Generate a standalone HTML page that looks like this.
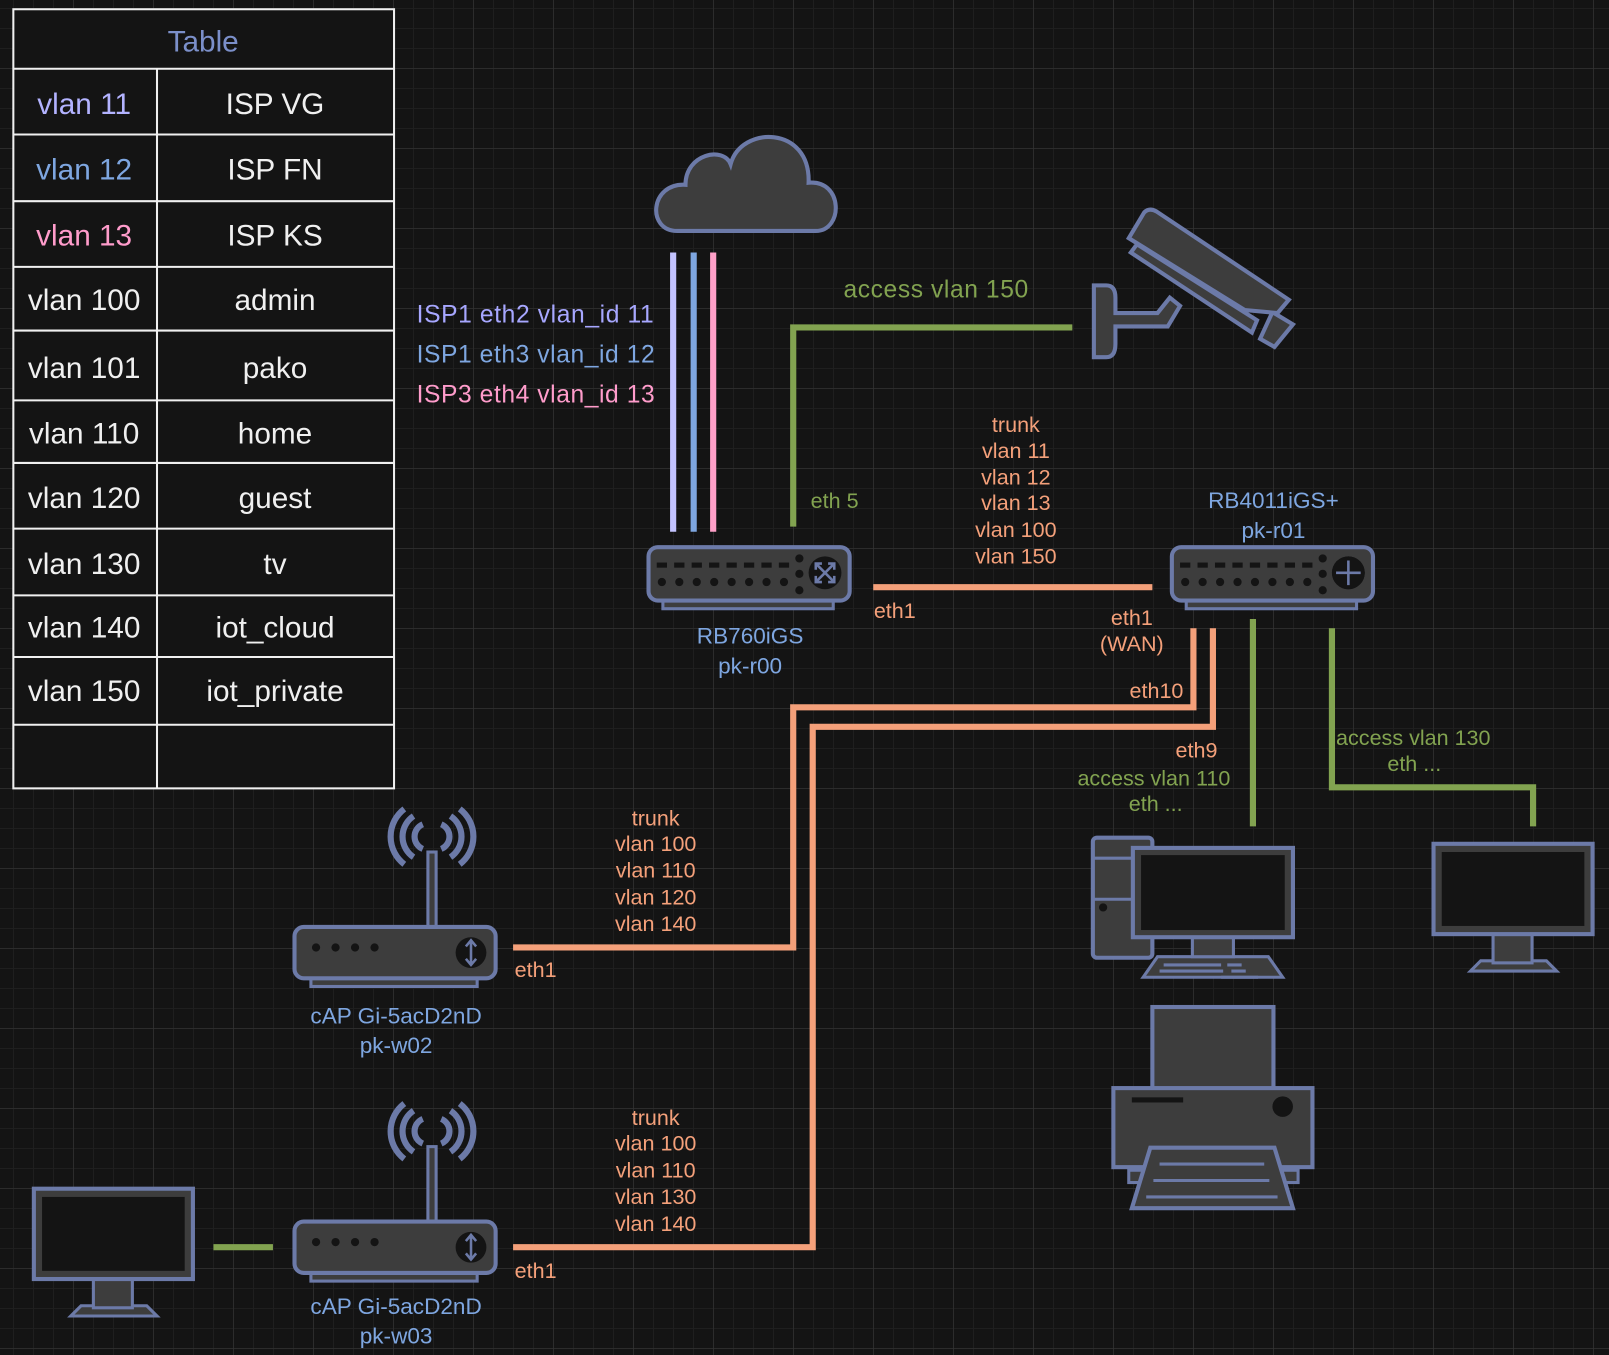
<!DOCTYPE html>
<html><head><meta charset="utf-8"><style>
html,body{margin:0;padding:0;background:#141414;}
svg{display:block;}
text{font-family:"Liberation Sans",Arial,sans-serif;}
</style></head><body>
<svg width="1609" height="1355" viewBox="0 0 1609 1355" xmlns="http://www.w3.org/2000/svg">
<defs>
<pattern id="minor" x="13" y="8" width="20" height="20" patternUnits="userSpaceOnUse">
<path d="M0 0H20M0 0V20" stroke="#1f1f1f" stroke-width="2" fill="none"/>
</pattern>
<pattern id="major" x="73" y="68" width="80" height="80" patternUnits="userSpaceOnUse">
<path d="M0 0H80M0 0V80" stroke="#333" stroke-width="1.2" fill="none"/>
</pattern>
</defs>
<rect width="1609" height="1355" fill="#141414"/>
<rect width="1609" height="1355" fill="url(#minor)"/>
<rect width="1609" height="1355" fill="url(#major)"/>

<g transform="scale(1.02615,1.02652)">
<!-- table -->
<g stroke="#f0f0f0" stroke-width="2" fill="#141414">
<rect x="13" y="9" width="371" height="759"/>
<path d="M13 67H384M13 131H384M13 196H384M13 260H384M13 322H384M13 390H384M13 451H384M13 515H384M13 580H384M13 640H384M13 706H384M153 67V768" fill="none"/>
</g>
<g font-size="29" text-anchor="middle" fill="#f0f0f0">
<text x="198" y="50" fill="#7b8fc9">Table</text>
<text x="82" y="111" fill="#b3b3ff">vlan 11</text><text x="268" y="111">ISP VG</text>
<text x="82" y="175" fill="#7ea6e0">vlan 12</text><text x="268" y="175">ISP FN</text>
<text x="82" y="239" fill="#ff9ccb">vlan 13</text><text x="268" y="239">ISP KS</text>
<text x="82" y="302">vlan 100</text><text x="268" y="302">admin</text>
<text x="82" y="368">vlan 101</text><text x="268" y="368">pako</text>
<text x="82" y="432">vlan 110</text><text x="268" y="432">home</text>
<text x="82" y="495">vlan 120</text><text x="268" y="495">guest</text>
<text x="82" y="559">vlan 130</text><text x="268" y="559">tv</text>
<text x="82" y="621">vlan 140</text><text x="268" y="621">iot_cloud</text>
<text x="82" y="683">vlan 150</text><text x="268" y="683">iot_private</text>
</g>

<!-- cloud -->
<path d="M660 225 C630 225 633 178 668 180 C668 150 705 142 712 160 C722 122 790 122 788 178 C822 175 822 225 795 225 Z" fill="#3d3d3d" stroke="#6c7aa8" stroke-width="4"/>

<!-- isp lines -->
<path d="M656 246V518" stroke="#c3c3ff" stroke-width="6"/>
<path d="M676 246V518" stroke="#7ea6e0" stroke-width="6"/>
<path d="M695 246V518" stroke="#ffa0c8" stroke-width="6"/>
<g font-size="24">
<text x="406" y="314" fill="#a7a7ff" textLength="231">ISP1 eth2 vlan_id 11</text>
<text x="406" y="353" fill="#7ea6e0" textLength="232">ISP1 eth3 vlan_id 12</text>
<text x="406" y="392" fill="#ff9ccb" textLength="232">ISP3 eth4 vlan_id 13</text>
</g>

<!-- green lines -->
<g stroke="#82a350" stroke-width="6" fill="none">
<path d="M773 513V319H1045"/>
<path d="M1221 603V805"/>
<path d="M1298 612V767H1494V805"/>
<path d="M208 1215H266"/>
</g>
<g font-size="22" fill="#82a350">
<text x="822" y="290" font-size="24" textLength="180">access vlan 150</text>
<text x="790" y="495" font-size="21">eth 5</text>
<text x="1050" y="765" font-size="21">access vlan 110</text>
<text x="1100" y="790" font-size="21">eth ...</text>
<text x="1302" y="726" font-size="21">access vlan 130</text>
<text x="1352" y="751" font-size="21">eth ...</text>
</g>

<!-- orange lines -->
<g stroke="#f4a07a" stroke-width="6" fill="none">
<path d="M851 572H1123"/>
<path d="M1163 612V689H773V923H500"/>
<path d="M1182 612V708H792V1215H500"/>
</g>
<g font-size="21" fill="#f4a07a" text-anchor="middle">
<text x="990" y="421">trunk</text><text x="990" y="446">vlan 11</text><text x="990" y="472">vlan 12</text><text x="990" y="497">vlan 13</text><text x="990" y="523">vlan 100</text><text x="990" y="549">vlan 150</text>
<text x="872" y="602">eth1</text>
<text x="1103" y="609">eth1</text><text x="1103" y="634">(WAN)</text>
<text x="1127" y="680">eth10</text>
<text x="1166" y="738">eth9</text>
<text x="639" y="804">trunk</text><text x="639" y="829">vlan 100</text><text x="639" y="855">vlan 110</text><text x="639" y="881">vlan 120</text><text x="639" y="907">vlan 140</text>
<text x="522" y="952">eth1</text>
<text x="639" y="1096">trunk</text><text x="639" y="1121">vlan 100</text><text x="639" y="1147">vlan 110</text><text x="639" y="1173">vlan 130</text><text x="639" y="1199">vlan 140</text>
<text x="522" y="1245">eth1</text>
</g>

<!-- switch RB760 -->
<g id="sw">
<rect x="646" y="583" width="166" height="10" fill="#3d3d3d" stroke="#6c7aa8" stroke-width="3"/>
<rect x="632" y="533" width="196" height="52" rx="9" fill="#3d3d3d" stroke="#6c7aa8" stroke-width="4"/>
<g fill="#141414">
<rect x="640" y="548" width="10" height="5"/><rect x="657" y="548" width="10" height="5"/><rect x="674" y="548" width="10" height="5"/><rect x="691" y="548" width="10" height="5"/><rect x="708" y="548" width="10" height="5"/><rect x="725" y="548" width="10" height="5"/><rect x="742" y="548" width="10" height="5"/><rect x="759" y="548" width="10" height="5"/>
<circle cx="645" cy="567" r="4"/><circle cx="662" cy="567" r="4"/><circle cx="679" cy="567" r="4"/><circle cx="696" cy="567" r="4"/><circle cx="713" cy="567" r="4"/><circle cx="730" cy="567" r="4"/><circle cx="747" cy="567" r="4"/><circle cx="764" cy="567" r="4"/>
<circle cx="779" cy="544" r="4"/><circle cx="779" cy="559" r="4"/><circle cx="779" cy="575" r="4"/>
<circle cx="804" cy="558" r="16"/>
</g>
</g>
<path d="M795 549L813 567M813 549L795 567M795 555V549H801M807 549H813V555M795 561V567H801M807 567H813V561" stroke="#6c7aa8" stroke-width="2.5" fill="none"/>
<use href="#sw" transform="translate(510,0)"/>
<circle cx="1314" cy="558" r="16" fill="#141414"/>
<path d="M1314 546V570M1302 558H1326" stroke="#6c7aa8" stroke-width="2.5"/>
<g font-size="22" fill="#7ea6e0" text-anchor="middle">
<text x="731" y="627">RB760iGS</text><text x="731" y="656">pk-r00</text>
<text x="1241" y="495">RB4011iGS+</text><text x="1241" y="524">pk-r01</text>
<text x="386" y="997">cAP Gi-5acD2nD</text><text x="386" y="1026">pk-w02</text>
<text x="386" y="1280">cAP Gi-5acD2nD</text><text x="386" y="1309">pk-w03</text>
</g>

<!-- AP -->
<g id="ap">
<rect x="417" y="830" width="8" height="75" fill="#3d3d3d" stroke="#6c7aa8" stroke-width="3"/>
<g fill="none" stroke="#6c7aa8" stroke-width="6">
<path d="M412 803 A13 13 0 0 0 412 827"/><path d="M430 803 A13 13 0 0 1 430 827"/>
<path d="M403 795 A24 24 0 0 0 403 835"/><path d="M439 795 A24 24 0 0 1 439 835"/>
<path d="M394 788 A34 34 0 0 0 394 842"/><path d="M448 788 A34 34 0 0 1 448 842"/>
</g>
<rect x="303" y="951" width="162" height="10" fill="#3d3d3d" stroke="#6c7aa8" stroke-width="3"/>
<rect x="287" y="903" width="196" height="50" rx="9" fill="#3d3d3d" stroke="#6c7aa8" stroke-width="4"/>
<g fill="#141414"><circle cx="308" cy="923" r="4"/><circle cx="327" cy="923" r="4"/><circle cx="346" cy="923" r="4"/><circle cx="365" cy="923" r="4"/><circle cx="459" cy="928" r="15"/></g>
<path d="M459 918V938M454 922L459 916L464 922M454 934L459 940L464 934" stroke="#6c7aa8" stroke-width="2.5" fill="none"/>
</g>
<use href="#ap" transform="translate(0,287)"/>

<!-- monitor -->
<g id="mon">
<path d="M1433 946L1443 936H1507L1517 946Z" fill="#3d3d3d" stroke="#6c7aa8" stroke-width="3"/>
<rect x="1455" y="910" width="38" height="28" fill="#3d3d3d" stroke="#6c7aa8" stroke-width="3"/>
<rect x="1397" y="822" width="155" height="88" fill="#3d3d3d" stroke="#6c7aa8" stroke-width="4"/>
<rect x="1405" y="830" width="139" height="72" fill="#141414"/>
</g>
<use href="#mon" transform="translate(-1364,336)"/>

<!-- desktop -->
<rect x="1065" y="816" width="58" height="117" rx="4" fill="#3d3d3d" stroke="#6c7aa8" stroke-width="4"/>
<path d="M1065 836H1105M1065 876H1105" stroke="#6c7aa8" stroke-width="3"/>
<circle cx="1075" cy="884" r="4" fill="#141414"/>
<path d="M1114 952L1128 932H1236L1250 952Z" fill="#3d3d3d" stroke="#6c7aa8" stroke-width="3"/>
<path d="M1134 940H1190M1196 940H1210M1130 946H1192M1200 946H1214M1190 952H1226" stroke="#6c7aa8" stroke-width="3"/>
<rect x="1162" y="912" width="40" height="20" fill="#3d3d3d" stroke="#6c7aa8" stroke-width="3"/>
<rect x="1104" y="826" width="156" height="87" fill="#3d3d3d" stroke="#6c7aa8" stroke-width="4"/>
<rect x="1112" y="833" width="140" height="73" fill="#141414"/>

<!-- printer -->
<rect x="1123" y="981" width="118" height="80" fill="#3d3d3d" stroke="#6c7aa8" stroke-width="4"/>
<rect x="1085" y="1060" width="194" height="77" fill="#3d3d3d" stroke="#6c7aa8" stroke-width="4"/>
<rect x="1100" y="1140" width="165" height="12" fill="#3d3d3d" stroke="#6c7aa8" stroke-width="3"/>
<rect x="1103" y="1069" width="50" height="5" fill="#141414"/>
<circle cx="1250" cy="1078" r="10" fill="#141414"/>
<path d="M1103 1177L1121 1118H1242L1260 1177Z" fill="#3d3d3d" stroke="#6c7aa8" stroke-width="4"/>
<path d="M1130 1134H1232M1124 1150H1237M1117 1166H1245" stroke="#6c7aa8" stroke-width="3"/>

<!-- camera -->
<path d="M1066 278H1078Q1087 278 1087 290V305H1128L1140 290L1150 298L1138 318H1087V335Q1087 348 1078 348H1066Z" fill="#3d3d3d" stroke="#6c7aa8" stroke-width="4"/>
<path d="M1102 246L1108 238L1225 312L1220 324Z" fill="#3d3d3d" stroke="#6c7aa8" stroke-width="4"/>
<path d="M1240 304L1260 316L1242 338L1228 330Z" fill="#3d3d3d" stroke="#6c7aa8" stroke-width="4"/>
<path d="M1100 232L1115 207Q1120 202 1127 206L1256 292L1245 305L1213 302Z" fill="#3d3d3d" stroke="#6c7aa8" stroke-width="4"/>
</g>
</svg>
</body></html>
